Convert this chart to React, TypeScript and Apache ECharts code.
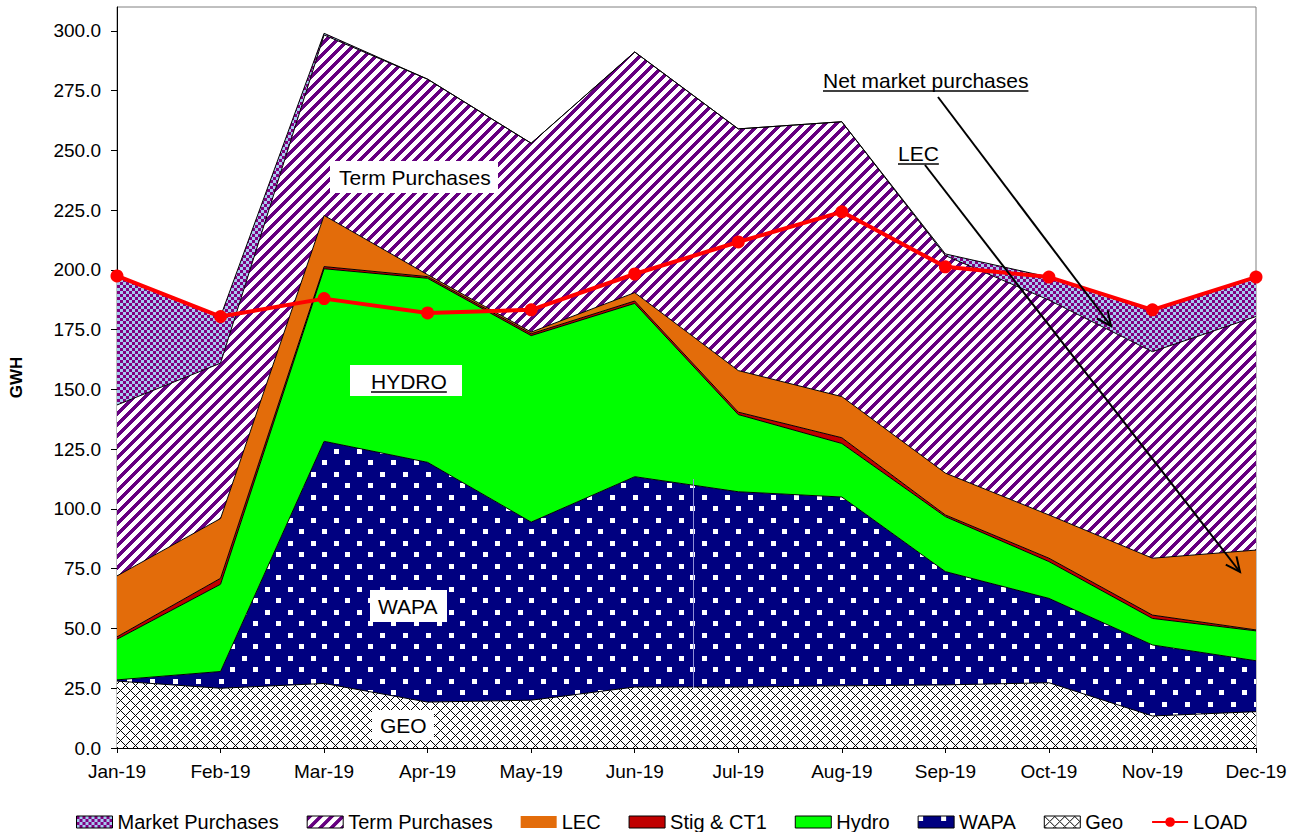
import React, { useEffect, useRef } from 'react';
import * as echarts from 'echarts';

const MONTHS = ['Jan-19', 'Feb-19', 'Mar-19', 'Apr-19', 'May-19', 'Jun-19', 'Jul-19', 'Aug-19', 'Sep-19', 'Oct-19', 'Nov-19', 'Dec-19'];
const GEO = [28, 25, 27, 19.2, 20, 25.5, 25.5, 26, 26.4, 27.3, 13.4, 15.2];
const WAPA = [0.5, 7, 101.3, 100.3, 74.5, 88, 81.7, 79, 47.4, 35.3, 29.7, 21.3];
const HYDRO = [17, 36.5, 72.2, 77, 78, 72.5, 32.3, 22.4, 23, 15.4, 11.1, 12.5];
const STIG = [1, 2.5, 0.9, 0.7, 0.8, 1, 1, 2.4, 0.7, 1.4, 1.4, 0.4];
const LEC = [25.5, 25, 21.4, 0.8, 0.7, 3.5, 17.4, 17.2, 17.5, 18.1, 23.8, 33.4];
const TERM = [71.5, 65, 75.5, 81.8, 79, 100.7, 101.1, 115, 91, 89.9, 86.4, 97.7];
const MARKET = [54, 19.5, 0.7, 0, 0, 0, 0, 0, 0.7, 9.6, 17.5, 16];
const LOAD = [197.5, 180.5, 188, 182, 183.3, 198.3, 211.7, 224.3, 201.3, 197, 183.3, 197];
const Y_TICKS = [0, 25, 50, 75, 100, 125, 150, 175, 200, 225, 250, 275, 300];

const FONT = 'Arial, "Liberation Sans", Helvetica, sans-serif';

type RGB = [number, number, number];
const PURPLE: RGB = [128, 0, 128];
const STRIPE: RGB = [102, 0, 128];
const LIGHTBLUE: RGB = [166, 202, 240];
const WHITE: RGB = [255, 255, 255];
const BLACK: RGB = [0, 0, 0];
const NAVY: RGB = [0, 0, 128];

function makePattern(w: number, h: number, pick: (x: number, y: number) => RGB) {
  const c = document.createElement('canvas');
  c.width = w;
  c.height = h;
  const ctx = c.getContext('2d')!;
  const img = ctx.createImageData(w, h);
  for (let y = 0; y < h; y++) {
    for (let x = 0; x < w; x++) {
      const [r, g, b] = pick(x, y);
      const i = (y * w + x) * 4;
      img.data[i] = r;
      img.data[i + 1] = g;
      img.data[i + 2] = b;
      img.data[i + 3] = 255;
    }
  }
  ctx.putImageData(img, 0, 0);
  return { image: c.toDataURL(), repeat: 'repeat', imageWidth: w, imageHeight: h } as any;
}

function measure(text: string, font: string) {
  const c = document.createElement('canvas');
  const ctx = c.getContext('2d')!;
  ctx.font = font;
  return ctx.measureText(text).width;
}

function arrow(x1: number, y1: number, x2: number, y2: number) {
  const dx = x2 - x1;
  const dy = y2 - y1;
  const len = Math.hypot(dx, dy);
  const ux = -dx / len;
  const uy = -dy / len;
  const a = (25 * Math.PI) / 180;
  const L = 16;
  const w1 = [x2 + L * (ux * Math.cos(a) - uy * Math.sin(a)), y2 + L * (ux * Math.sin(a) + uy * Math.cos(a))];
  const w2 = [x2 + L * (ux * Math.cos(a) + uy * Math.sin(a)), y2 + L * (-ux * Math.sin(a) + uy * Math.cos(a))];
  return [
    { type: 'line', z: 100, shape: { x1, y1, x2, y2 }, style: { stroke: '#000', lineWidth: 2 } },
    { type: 'polyline', z: 100, shape: { points: [w1, [x2, y2], w2] }, style: { stroke: '#000', lineWidth: 2, fill: null } },
  ];
}

export default function App() {
  const ref = useRef<HTMLDivElement>(null);

  useEffect(() => {
    document.body.style.margin = '0';
    if (!ref.current) return;
    const chart = echarts.init(ref.current, undefined, { renderer: 'svg' });

    const pMarket = makePattern(6, 6, (x, y) => ((Math.floor(x / 3) + Math.floor(y / 3)) % 2 === 0 ? PURPLE : LIGHTBLUE));
    const pTerm = makePattern(11, 11, (x, y) => ((x + y) % 11 < 5 ? STRIPE : WHITE));
    const pWapa = makePattern(23, 23, (x, y) => ((x < 5 && y < 5) || (x >= 12 && x < 17 && y >= 12 && y < 17) ? WHITE : NAVY));
    const pGeo = makePattern(10, 10, (x, y) => ((x + y) % 10 === 0 || (x - y + 100) % 10 === 0 ? BLACK : WHITE));

    const LEC_C = '#E36C0A';
    const STIG_C = '#C00000';
    const HYDRO_C = '#00FF00';

    const layers = [
      { name: 'Geo', data: GEO, fill: pGeo },
      { name: 'WAPA', data: WAPA, fill: pWapa },
      { name: 'Hydro', data: HYDRO, fill: HYDRO_C },
      { name: 'Stig & CT1', data: STIG, fill: STIG_C },
      { name: 'LEC', data: LEC, fill: LEC_C },
      { name: 'Term Purchases', data: TERM, fill: pTerm },
      { name: 'Market Purchases', data: MARKET, fill: pMarket },
    ];

    const areaSeries = layers.map((l) => ({
      name: l.name,
      type: 'line',
      stack: 'area',
      data: l.data,
      symbol: 'none',
      showSymbol: false,
      silent: true,
      z: 2,
      lineStyle: { width: 0, color: '#000' },
      itemStyle: { color: typeof l.fill === 'string' ? l.fill : '#000080' },
      areaStyle: { color: l.fill, opacity: 1 },
    }));

    const borderSeries = layers.map((l) => ({
      name: l.name + ' border',
      type: 'line',
      stack: 'border',
      data: l.data,
      symbol: 'none',
      showSymbol: false,
      silent: true,
      z: 3,
      lineStyle: { width: 1, color: '#000' },
    }));

    const loadSeries = {
      name: 'LOAD',
      type: 'line',
      data: LOAD,
      symbol: 'circle',
      symbolSize: 13,
      z: 5,
      lineStyle: { color: '#FF0000', width: 4 },
      itemStyle: { color: '#FF0000' },
    };

    const bordered = { borderColor: '#000', borderWidth: 1 };
    const legendData = [
      { name: 'Market Purchases', icon: 'rect', itemStyle: { color: pMarket, ...bordered } },
      { name: 'Term Purchases', icon: 'rect', itemStyle: { color: pTerm, ...bordered } },
      { name: 'LEC', icon: 'rect', itemStyle: { color: LEC_C, borderWidth: 0 } },
      { name: 'Stig & CT1', icon: 'rect', itemStyle: { color: STIG_C, ...bordered } },
      { name: 'Hydro', icon: 'rect', itemStyle: { color: HYDRO_C, ...bordered } },
      { name: 'WAPA', icon: 'rect', itemStyle: { color: pWapa, ...bordered } },
      { name: 'Geo', icon: 'rect', itemStyle: { color: pGeo, ...bordered } },
      { name: 'LOAD' },
    ];

    const annFont = `21px ${FONT}`;
    const labels = [
      { box: [330, 161, 168, 32], text: 'Term Purchases', x: 339, y: 177, underline: false },
      { box: [350, 365, 112, 31], text: 'HYDRO', x: 371, y: 381, underline: true },
      { box: [370, 590, 77, 32], text: 'WAPA', x: 378, y: 606, underline: false },
      { box: [372, 710, 62, 30], text: 'GEO', x: 380, y: 725, underline: false },
      { box: null, text: 'Net market purchases', x: 823, y: 80, underline: true },
      { box: null, text: 'LEC', x: 898, y: 153, underline: true },
    ];
    const graphics: any[] = [];
    labels.forEach((l) => {
      if (l.box) {
        graphics.push({ type: 'rect', z: 99, shape: { x: l.box[0], y: l.box[1], width: l.box[2], height: l.box[3] }, style: { fill: '#fff' } });
      }
      graphics.push({ type: 'text', z: 101, x: l.x, y: l.y, style: { text: l.text, font: annFont, fill: '#000', verticalAlign: 'middle', align: 'left' } });
      if (l.underline) {
        const w = measure(l.text, annFont);
        graphics.push({ type: 'line', z: 101, shape: { x1: l.x, y1: l.y + 11, x2: l.x + w, y2: l.y + 11 }, style: { stroke: '#000', lineWidth: 1.5 } });
      }
    });
    graphics.push(...arrow(938, 97, 1111, 326));
    graphics.push(...arrow(925, 165, 1240, 572));
    graphics.push({ type: 'line', z: 4, shape: { x1: 693.5, y1: 479, x2: 693.5, y2: 688 }, style: { stroke: '#9090D8', lineWidth: 1 } });

    chart.setOption({
      animation: false,
      backgroundColor: '#fff',
      grid: { left: 117, right: 40, top: 7, bottom: 84, show: true, borderColor: '#808080', borderWidth: 1, backgroundColor: 'transparent' },
      legend: {
        data: legendData,
        left: 76,
        top: 812,
        padding: 0,
        itemWidth: 36,
        itemHeight: 12,
        itemGap: 28,
        selectedMode: false,
        textStyle: { fontSize: 20, color: '#000', fontFamily: FONT },
      },
      xAxis: {
        type: 'category',
        data: MONTHS,
        boundaryGap: false,
        axisLine: { lineStyle: { color: '#000', width: 1 } },
        axisTick: { show: true, length: 5, lineStyle: { color: '#000' } },
        axisLabel: { fontSize: 19, color: '#000', margin: 14, interval: 0, fontFamily: FONT },
        splitLine: { show: false },
      },
      yAxis: {
        type: 'value',
        min: 0,
        max: 310,
        interval: 25,
        name: 'GWH',
        nameLocation: 'middle',
        nameGap: 92,
        nameTextStyle: { fontWeight: 'bold', fontSize: 17, color: '#000', fontFamily: FONT },
        axisLine: { show: true, lineStyle: { color: '#000', width: 1 } },
        axisTick: { show: true, length: 6, lineStyle: { color: '#000' }, customValues: Y_TICKS },
        axisLabel: { customValues: Y_TICKS, formatter: (v: number) => v.toFixed(1), fontSize: 19, color: '#000', margin: 16, fontFamily: FONT },
        splitLine: { show: false },
      },
      series: [...areaSeries, ...borderSeries, loadSeries],
      graphic: graphics,
    } as any);

    return () => chart.dispose();
  }, []);

  return <div ref={ref} style={{ width: 1296, height: 832 }} />;
}
